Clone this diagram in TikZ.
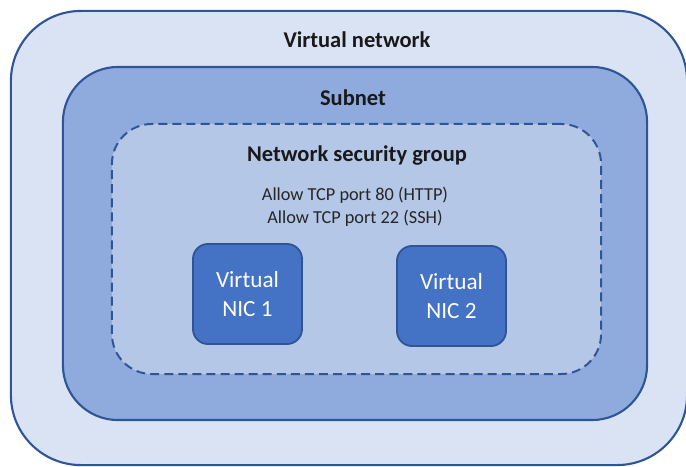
\documentclass[tikz,border=0pt]{standalone}
\usepackage{fontspec}
\setmainfont{Carlito}
\definecolor{edgeblue}{HTML}{2F5597}
\definecolor{vnetfill}{HTML}{DAE3F3}
\definecolor{subfill}{HTML}{8FAADC}
\definecolor{nsgfill}{HTML}{B4C7E7}
\definecolor{nicfill}{HTML}{4472C4}
\definecolor{txt}{HTML}{262626}
\begin{document}
\begin{tikzpicture}[x=0.025cm, y=-0.025cm,
  zone/.style={draw=edgeblue, line width=1.5pt, rectangle, inner sep=0pt},
  title/.style={font=\fontsize{16}{19}\selectfont\bfseries, text=black!90},
  nic/.style={zone, fill=nicfill, rounded corners=0.375cm, line width=1.3pt,
    minimum width=2.725cm, minimum height=2.5cm, align=center, text=white,
    font=\fontsize{16.5}{20}\selectfont}]
  \useasboundingbox (0,0) rectangle (686,467);
  % nested zones
  \node[zone, fill=vnetfill, rounded corners=1.75cm, minimum width=16.9cm, minimum height=11.35cm] (vnet) at (349,238) {};
  \node[zone, fill=subfill, rounded corners=1.375cm, minimum width=14.6cm, minimum height=8.825cm] (subnet) at (355,243.5) {};
  \node[zone, fill=nsgfill, line width=1.4pt, dash pattern=on 6.4pt off 3.6pt, rounded corners=1cm, minimum width=12.225cm, minimum height=6.25cm] (nsg) at (356.5,249) {};
  % titles
  \node[title] (vnetlbl) at (357,40) {Virtual network};
  \node[title] (sublbl) at (353,98) {Subnet};
  \node[title] (nsglbl) at (357,156) {Network security group};
  \node[align=center, text=txt, font=\fontsize{13}{16}\selectfont] (rules) at (355,207)
      {Allow TCP port 80 (HTTP)\\Allow TCP port 22 (SSH)};
  % NICs
  \node[nic] (nic1) at (247.5,294) {Virtual\\NIC 1};
  \node[nic] (nic2) at (451.5,296) {Virtual\\NIC 2};
\end{tikzpicture}
\end{document}
